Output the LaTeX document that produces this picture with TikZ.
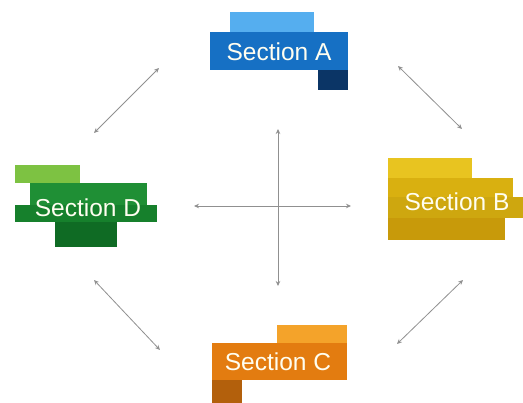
\documentclass[tikz,border=0pt]{standalone}
\usepackage{fontspec}
\setmainfont{Liberation Sans}
\usetikzlibrary{arrows.meta}
\definecolor{aLight}{HTML}{55AEEF}
\definecolor{aMain}{HTML}{1670C4}
\definecolor{aDark}{HTML}{0B3566}
\definecolor{bTop}{HTML}{E8C420}
\definecolor{bMid}{HTML}{D9B010}
\definecolor{bBot}{HTML}{C89A0A}
\definecolor{cLight}{HTML}{F4A32A}
\definecolor{cMain}{HTML}{E37C10}
\definecolor{cDark}{HTML}{B3600C}
\definecolor{dLight}{HTML}{7DC242}
\definecolor{dMain}{HTML}{1F8F35}
\definecolor{dMid}{HTML}{16802C}
\definecolor{dDark}{HTML}{0F6B24}
\definecolor{lineGray}{HTML}{909090}
\begin{document}
\begin{tikzpicture}[x=1pt,y=-1pt,
  label/.style={text=white!94!yellow, font=\fontsize{24.5}{28}\selectfont, inner sep=0pt},
  conn/.style={draw=lineGray, line width=0.8pt, {Stealth[length=5pt,width=4.5pt]}-{Stealth[length=5pt,width=4.5pt]}}]
\useasboundingbox[fill=white] (0,0) rectangle (523,403);
% Section A
\fill[aLight] (230,12) rectangle (314,32);
\fill[aMain] (210,32) rectangle (348,70);
\fill[aDark] (318,70) rectangle (348,90);
\node[label] (A) at (279,52) {Section A};
% Section B
\fill[bTop] (388,158) rectangle (472,178);
\fill[bMid] (388,178) rectangle (513,197);
\fill[bMid!95!black] (388,197) rectangle (523,218);
\fill[bBot] (388,218) rectangle (505,240);
\node[label] (B) at (457,202) {Section B};
% Section C
\fill[cLight] (277,325) rectangle (347,343);
\fill[cMain] (212,343) rectangle (347,380);
\fill[cDark] (212,380) rectangle (242,403);
\node[label] (C) at (278,362) {Section C};
% Section D
\fill[dLight] (15,165) rectangle (80,183);
\fill[dMain] (30,183) rectangle (147,205);
\fill[dMid] (15,205) rectangle (157,222);
\fill[dDark] (55,222) rectangle (117,247);
\node[label] (D) at (88,208) {Section D};
% connectors
\coordinate (ad1) at (159,68); \coordinate (ad2) at (94,133);
\coordinate (ab1) at (398,66); \coordinate (ab2) at (462,129);
\coordinate (dc1) at (94,280); \coordinate (dc2) at (160,350);
\coordinate (bc1) at (463,280); \coordinate (bc2) at (397,344);
\coordinate (vt) at (278,129); \coordinate (vb) at (278,286);
\coordinate (hl) at (194,206); \coordinate (hr) at (351,206);
\draw[conn] (ad1) -- (ad2);
\draw[conn] (ab1) -- (ab2);
\draw[conn] (dc1) -- (dc2);
\draw[conn] (bc1) -- (bc2);
\draw[conn] (vt) -- (vb);
\draw[conn] (hl) -- (hr);
\end{tikzpicture}
\end{document}
